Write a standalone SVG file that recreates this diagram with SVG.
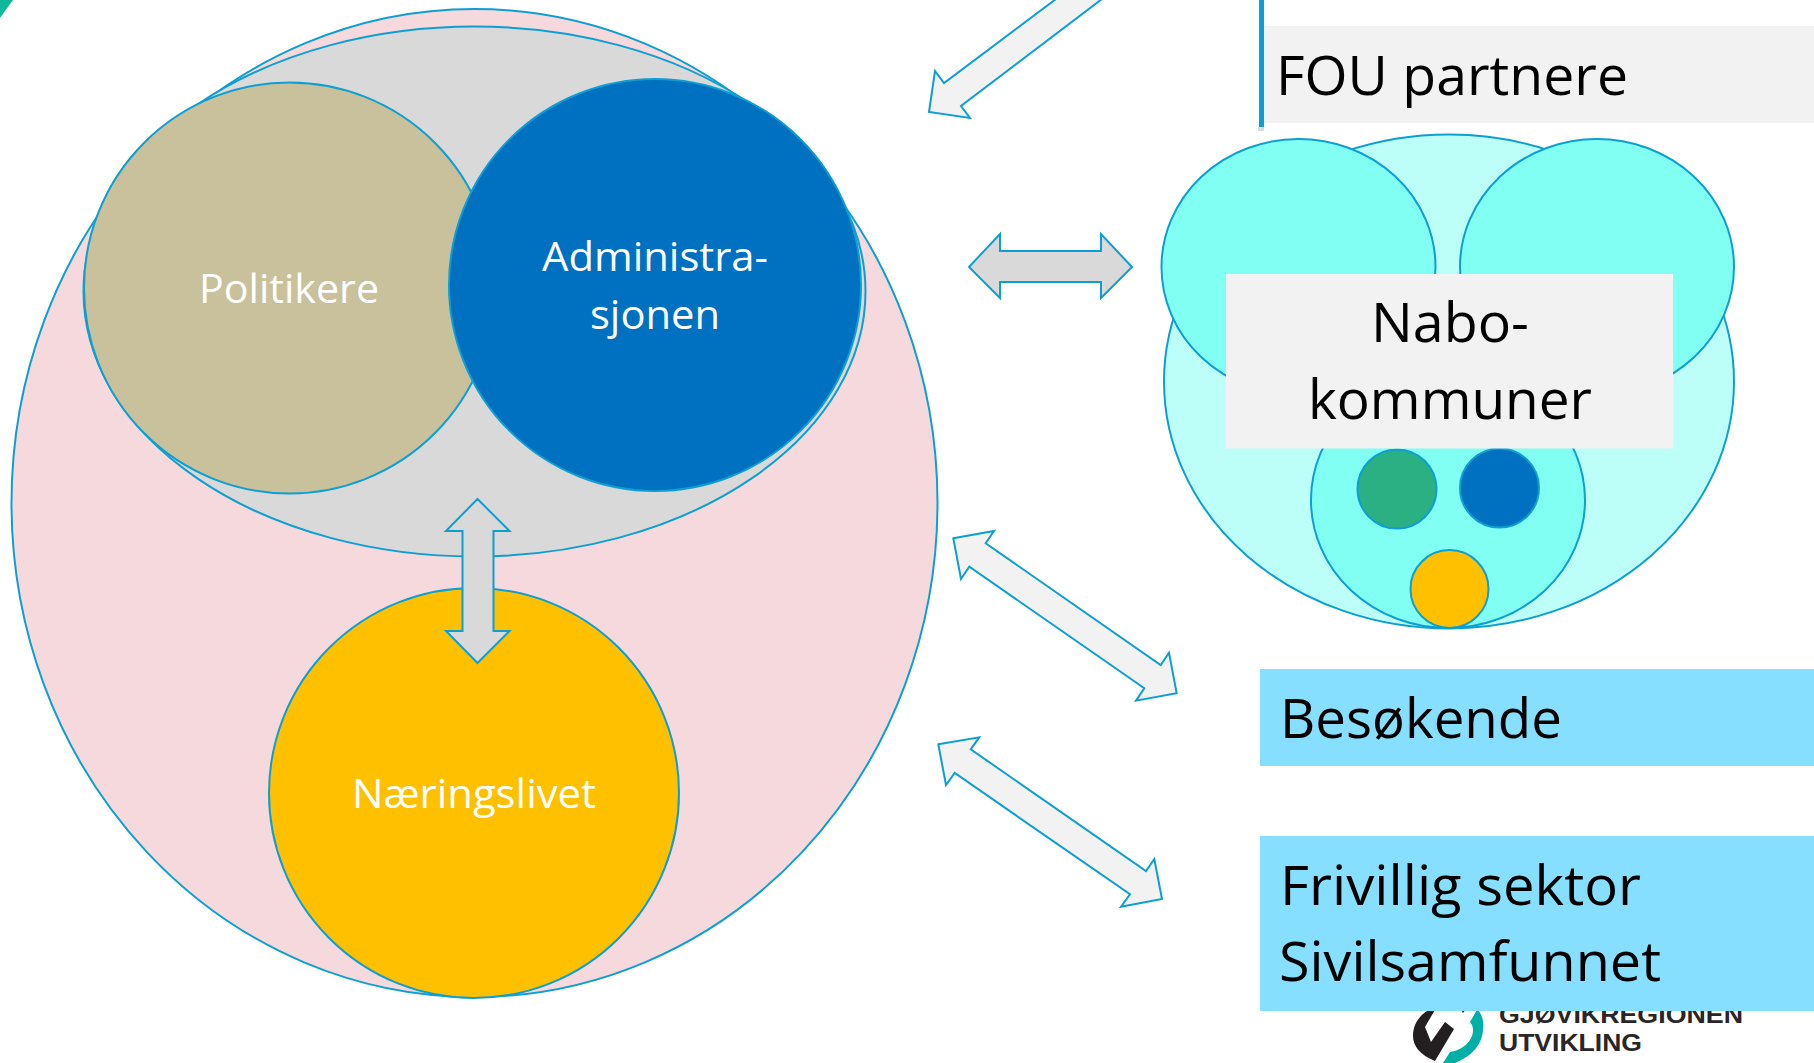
<svg xmlns="http://www.w3.org/2000/svg" width="1814" height="1063" viewBox="0 0 1814 1063">
<style>
.s{stroke:#0E9FD2;stroke-width:2}
.a{stroke:#0E9FD2;stroke-width:2;stroke-linejoin:miter}
.l{fill:#F2F2F2}
.g{fill:#D9D9D9}
.q{fill:#80FFF2}
text{font-family:"Open Sans","Noto Sans","Liberation Sans",sans-serif}
.w{fill:#fff;font-size:40px}
.k{fill:#000;font-size:54px}
.n{fill:#2A2526;font-family:"Liberation Sans",Arial,sans-serif;font-weight:700;font-size:23px}
</style>
<rect width="1814" height="1063" fill="#fff"/>
<polygon points="0,0 13,0 0,18" fill="#10B89A"/>
<g id="logo">
<path d="M1433,1008 C1420,1013 1413,1024 1413,1036 C1413,1046 1420,1055 1435,1061 L1454,1029 L1445,1022 L1431,1042 L1425,1027 L1436,1008 Z" fill="#231F20"/>
<path d="M1460,1008 L1467,1008 L1463,1013 Z" fill="#231F20"/>
<path d="M1478,1008 L1479,1011 C1483,1017 1484,1023 1483,1030 C1482,1046 1470,1057 1455,1063 L1443,1063 L1450,1052 C1463,1050 1473,1041 1473,1030 C1473,1027 1472,1024 1470,1022 Z" fill="#00AFA5"/>
<text class="n" x="1499" y="1023" textLength="244" lengthAdjust="spacingAndGlyphs">GJØVIKREGIONEN</text>
<text class="n" x="1499" y="1051" textLength="143" lengthAdjust="spacingAndGlyphs">UTVIKLING</text>
</g>
<g id="samfunn"><ellipse class="s" cx="474.5" cy="503" rx="463" ry="494" fill="#F6D9DC"/></g>
<g id="kjerne"><ellipse class="s" cx="474.5" cy="291.5" rx="391" ry="265" fill="#D9D9D9"/></g>
<g id="politikere"><circle class="s" cx="289.5" cy="288" r="205.5" fill="#C9C19B"/><text class="w" x="199" y="303" textLength="180" lengthAdjust="spacingAndGlyphs">Politikere</text></g>
<g id="administrasjonen"><circle class="s" cx="655" cy="285" r="206" fill="#0070C0"/><text class="w" x="542" y="271" textLength="226" lengthAdjust="spacingAndGlyphs">Administra-</text><text class="w" x="590" y="329" textLength="130" lengthAdjust="spacingAndGlyphs">sjonen</text></g>
<g id="naeringslivet"><circle class="s" cx="474" cy="793" r="205" fill="#FFC000"/><text class="w" x="352" y="808" textLength="244" lengthAdjust="spacingAndGlyphs">Næringslivet</text></g>
<g id="nabokommuner">
<ellipse class="s" cx="1449" cy="381.5" rx="285" ry="247" fill="#BCFFF8"/>
<ellipse class="s q" cx="1298.5" cy="267" rx="137" ry="128"/>
<ellipse class="s q" cx="1597" cy="267" rx="137" ry="128"/>
<ellipse class="s q" cx="1448" cy="500" rx="137" ry="128"/>
<circle class="s" cx="1397" cy="489" r="39.5" fill="#2BB084"/>
<circle class="s" cx="1499.5" cy="488" r="39.5" fill="#0070C0"/>
<circle class="s" cx="1449.5" cy="589" r="39" fill="#FFC000"/>
<rect x="1226" y="274" width="447" height="174.500" class="l"/>
<text class="k" x="1371" y="342" textLength="158" lengthAdjust="spacingAndGlyphs">Nabo-</text>
<text class="k" x="1308" y="419" textLength="284" lengthAdjust="spacingAndGlyphs">kommuner</text>
</g>
<g id="fou">
<rect x="1261" y="26" width="553" height="97" class="l"/>
<rect x="1258" y="127" width="6" height="4" fill="#999" opacity=".35"/>
<rect x="1259" y="0" width="5" height="127" fill="#0E9FD2"/>
<text class="k" x="1276" y="95" textLength="352" lengthAdjust="spacingAndGlyphs">FOU partnere</text>
</g>
<g id="besokende"><rect x="1260" y="669" width="554" height="97" fill="#87DFFF"/><text class="k" x="1280" y="738" textLength="282" lengthAdjust="spacingAndGlyphs">Besøkende</text></g>
<g id="frivillig"><rect x="1260" y="836" width="554" height="175" fill="#87DFFF"/><text class="k" x="1280" y="905" textLength="361" lengthAdjust="spacingAndGlyphs">Frivillig sektor</text><text class="k" x="1279" y="981" textLength="382" lengthAdjust="spacingAndGlyphs">Sivilsamfunnet</text></g>
<g id="connectors">
<polygon class="a l" points="1056,-1 944,83 935,71 929,112 970,118 961,106 1102,-1"/>
<polygon class="a g" points="969,267 1000,234 1000,251 1101,251 1101,234 1132,267 1101,298 1101,282 1000,282 1000,298"/>
<polygon class="a g" points="477.500,499 446,531 462.500,531 462.500,631 446,631 477.500,663 509.500,631 493.500,631 493.500,531 509.500,531"/>
<polygon class="a l" points="953.3,538.3 994,531 985.7,543.3 1160.7,665 1169,652.7 1176.7,693.3 1136,700.7 1144.3,688.3 969.3,566.7 961,579"/>
<polygon class="a l" points="938.3,744.3 979.3,737.3 970.7,749.3 1146,871 1154.3,859 1162,899 1121,906.7 1130,894.3 954.7,773 946,785"/>
</g>
</svg>
